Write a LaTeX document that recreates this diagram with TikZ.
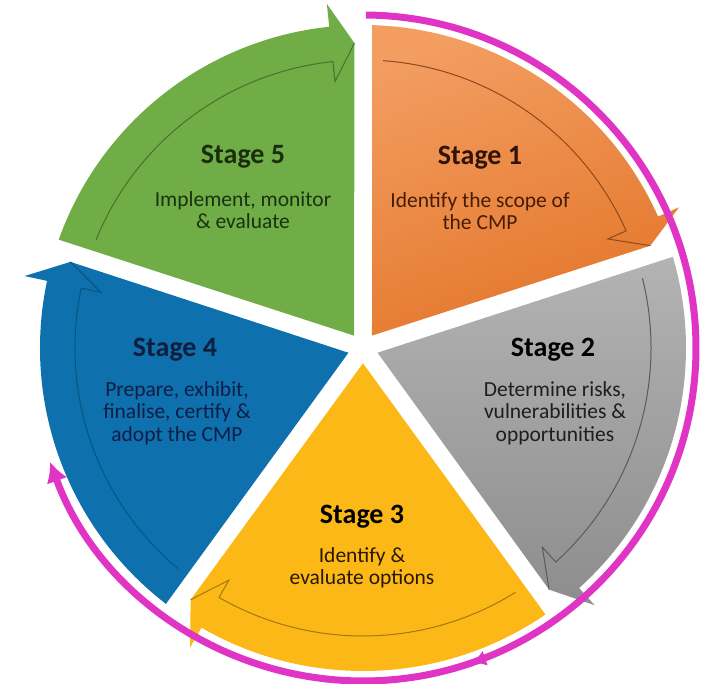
\documentclass[tikz,border=0pt]{standalone}
\usepackage{fontspec}
\setmainfont{Carlito}
\usetikzlibrary{arrows.meta,calc,decorations.markings}
\tikzset{>=latex}

\definecolor{stagegreen}{RGB}{112,173,71}
\definecolor{stageorange}{RGB}{239,124,44}
\definecolor{stagegray}{RGB}{166,166,166}
\definecolor{stageyellow}{RGB}{252,184,22}
\definecolor{stageblue}{RGB}{14,112,172}
\definecolor{cycleline}{RGB}{224,52,196}

\tikzset{
    head/.style = {font=\fontsize{28}{30}\selectfont\bfseries, inner sep=0pt},
    body/.style = {font=\fontsize{21.5}{22.5}\selectfont, align=center, inner sep=0pt},
}

% one stage: #1 start angle, #2 fill, #3 inner line colour
\newcommand{\stagearrow}[3]{%
    \path[#2] ({#1-36}:15.3pt) -- ({#1-1.6}:323pt)
        arc[start angle={#1-1.6}, end angle={#1-66}, radius=323pt]
        -- ({#1-66}:346pt) -- ({#1-70.4}:305pt) -- cycle;
    \draw[#3, line width=1pt] ({#1-4}:288pt)
        arc[start angle={#1-4}, end angle={#1-66}, radius=288pt]
        -- ({#1-66}:268pt) -- ({#1-70.4}:305pt);
}

\begin{document}
\begin{tikzpicture}[x=1pt,y=1pt]

    \useasboundingbox (0,0) rectangle (706,684);

    \begin{scope}[shift={(363,336)}]
        \stagearrow{90}{top color=stageorange!75!white, bottom color=stageorange!95!black, shading angle=20}{stageorange!60!black}
        \stagearrow{18}{top color=stagegray!85!white, bottom color=stagegray!85!black}{stagegray!55!black}
        \stagearrow{-54}{fill=stageyellow}{stageyellow!65!black}
        \stagearrow{-126}{fill=stageblue}{stageblue!75!black}
        \stagearrow{162}{fill=stagegreen}{stagegreen!65!black}

        \coordinate (ringstart) at (89.5:333pt);
        \draw[cycleline, line width=7pt, -{Latex[length=20pt,width=22pt]},
              postaction={decorate, decoration={markings,
                  mark=at position 0.643 with {\arrow{Latex[length=14pt,width=16pt]}}}}]
            (ringstart) arc[start angle=89.5, end angle=-160, radius=333pt];
    \end{scope}

    \node[head, text={rgb,255:red,25;green,45;blue,15}] (head5) at (243,527) {Stage 5};
    \node[body, text={rgb,255:red,25;green,50;blue,15}] (body5) at ($(head5)+(0,-53)$) {Implement, monitor\\ \& evaluate};

    \node[head, text={rgb,255:red,50;green,20;blue,5}] (head1) at (480,526) {Stage 1};
    \node[body, text={rgb,255:red,70;green,28;blue,5}] (body1) at ($(head1)+(0,-53)$) {Identify the scope of\\the CMP};

    \node[head, text=black] (head2) at (553,334) {Stage 2};
    \node[body, text={rgb,255:red,30;green,30;blue,30}] (body2) at ($(head2)+(2,-63)$) {Determine risks,\\ vulnerabilities \&\\ opportunities};

    \node[head, text=black] (head3) at (362,167) {Stage 3};
    \node[body, text={rgb,255:red,40;green,25;blue,5}] (body3) at ($(head3)+(0,-51)$) {Identify \&\\evaluate options};

    \node[head, text={rgb,255:red,15;green,30;blue,60}] (head4) at (175,334) {Stage 4};
    \node[body, text={rgb,255:red,15;green,30;blue,70}] (body4) at ($(head4)+(2,-63)$) {Prepare, exhibit,\\ finalise, certify \&\\ adopt the CMP};

\end{tikzpicture}
\end{document}
